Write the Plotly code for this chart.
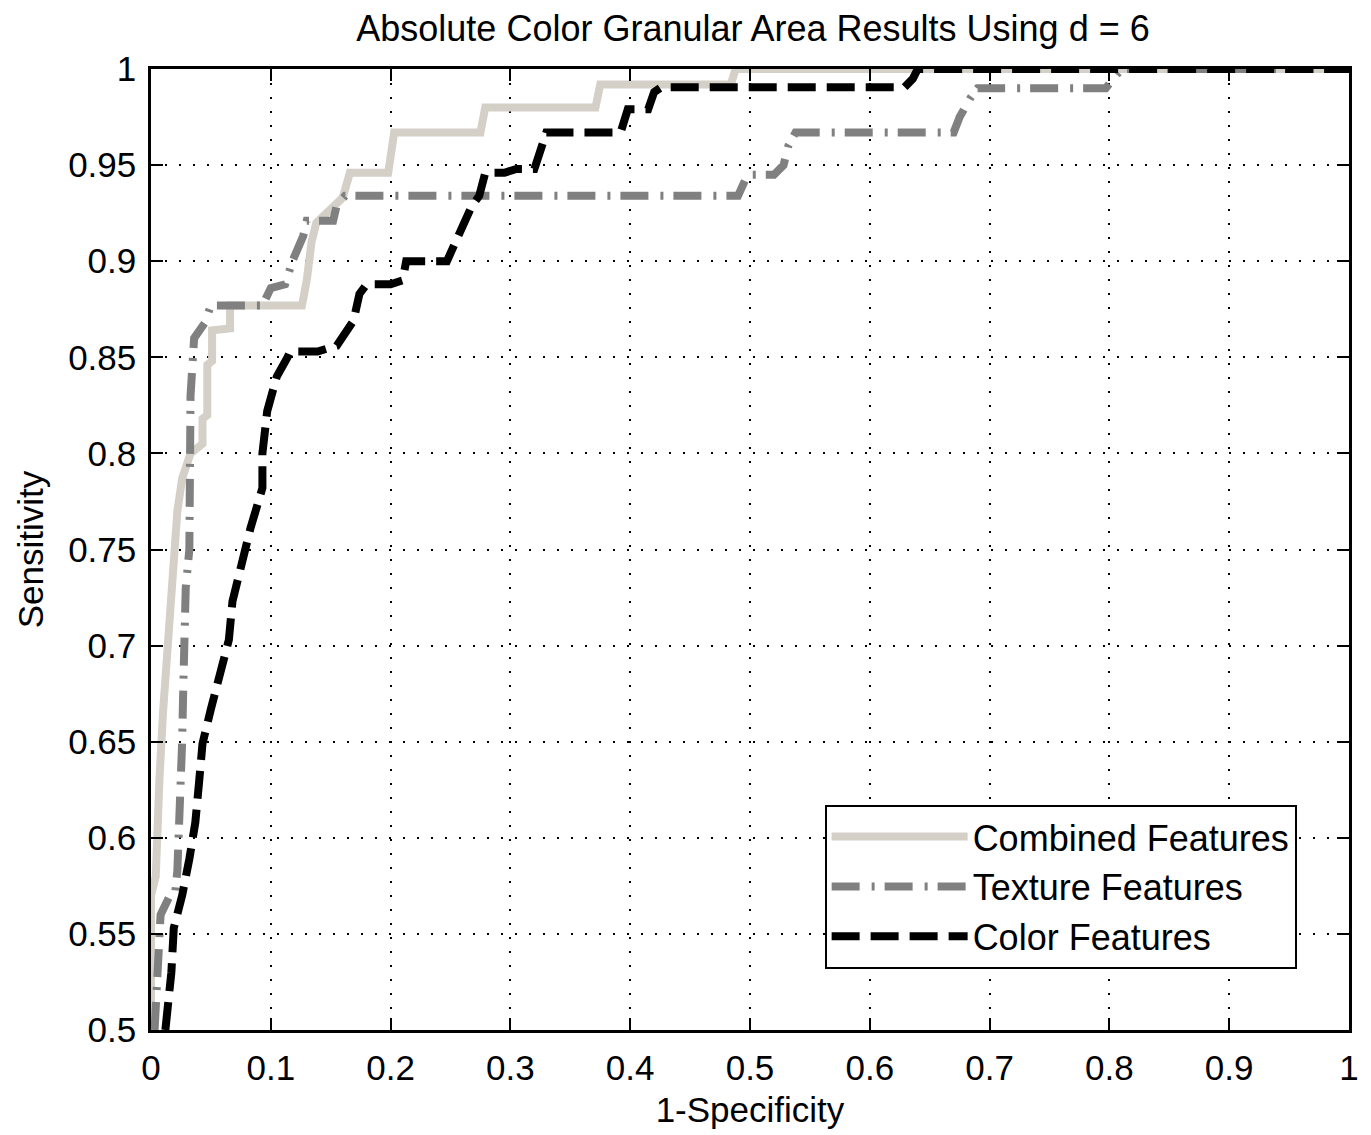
import plotly.graph_objects as go

# ---- data ----
combined_x = [0, 0, 0.004, 0.005, 0.007, 0.010, 0.014, 0.019, 0.022, 0.026, 0.033, 0.043, 0.043, 0.047, 0.047,
              0.051, 0.051, 0.066, 0.066, 0.126, 0.130, 0.134, 0.138, 0.160, 0.163, 0.166, 0.198, 0.203,
              0.275, 0.279, 0.371, 0.375, 0.484, 0.488, 1.0]
combined_y = [0.5, 0.57, 0.58, 0.60, 0.63, 0.665, 0.70, 0.735, 0.77, 0.787, 0.80, 0.805, 0.818, 0.82, 0.846,
              0.848, 0.864, 0.865, 0.877, 0.877, 0.89, 0.91, 0.92, 0.933, 0.94, 0.946, 0.946, 0.967,
              0.967, 0.98, 0.98, 0.992, 0.992, 1.0, 1.0]

texture_x = [0.003, 0.005, 0.008, 0.015, 0.020, 0.022, 0.024, 0.026, 0.027, 0.028, 0.029, 0.032, 0.033, 0.033,
             0.036, 0.045, 0.050, 0.093, 0.100, 0.112, 0.118, 0.127, 0.130, 0.152, 0.155, 0.162, 0.490,
             0.495, 0.498, 0.520, 0.528, 0.532, 0.538, 0.670, 0.675, 0.684, 0.690, 0.797, 0.803, 0.810, 1.0]
texture_y = [0.5, 0.53, 0.56, 0.569, 0.57, 0.583, 0.61, 0.65, 0.68, 0.70, 0.73, 0.75, 0.78, 0.83,
             0.86, 0.868, 0.877, 0.877, 0.886, 0.888, 0.90, 0.913, 0.921, 0.921, 0.929, 0.934, 0.934,
             0.94, 0.945, 0.945, 0.95, 0.96, 0.967, 0.967, 0.975, 0.985, 0.99, 0.99, 0.995, 1.0, 1.0]

color_x = [0.012, 0.014, 0.017, 0.019, 0.026, 0.032, 0.037, 0.040, 0.043, 0.050, 0.058, 0.065, 0.068, 0.075,
           0.083, 0.093, 0.093, 0.097, 0.105, 0.114, 0.116, 0.139, 0.155, 0.169, 0.174, 0.180, 0.200,
           0.210, 0.213, 0.247, 0.255, 0.268, 0.274, 0.279, 0.295, 0.305, 0.320, 0.326, 0.330, 0.392,
           0.398, 0.415, 0.420, 0.426, 0.629, 0.636, 0.640, 1.0]
color_y = [0.5, 0.51, 0.53, 0.553, 0.57, 0.589, 0.608, 0.628, 0.649, 0.667, 0.685, 0.703, 0.723, 0.743,
           0.761, 0.782, 0.80, 0.822, 0.84, 0.85, 0.853, 0.853, 0.856, 0.869, 0.883, 0.888, 0.888,
           0.89, 0.90, 0.90, 0.912, 0.929, 0.934, 0.946, 0.946, 0.948, 0.948, 0.961, 0.967, 0.967,
           0.979, 0.979, 0.988, 0.9905, 0.9905, 0.995, 1.0, 1.0]

series_names = ["Combined Features", "Texture Features", "Color Features"]

x_tickvals = [0, 0.1, 0.2, 0.3, 0.4, 0.5, 0.6, 0.7, 0.8, 0.9, 1.0]
x_ticktext = ["0", "0.1", "0.2", "0.3", "0.4", "0.5", "0.6", "0.7", "0.8", "0.9", "1"]
y_tickvals = [0.5, 0.55, 0.6, 0.65, 0.7, 0.75, 0.8, 0.85, 0.9, 0.95, 1.0]
y_ticktext = ["0.5", "0.55", "0.6", "0.65", "0.7", "0.75", "0.8", "0.85", "0.9", "0.95", "1"]

FONT = "Liberation Sans, Arial, sans-serif"

# page body has an 8px margin in the browser; size the figure so the plot lands where the reference has it
W, H = 1363, 1127
L, T = 143, 61
PW, PH = 1204, 964

fig = go.Figure()
fig.add_trace(go.Scatter(x=combined_x, y=combined_y, mode="lines", name=series_names[0],
                         line=dict(color="#d4d0c8", width=8)))
fig.add_trace(go.Scatter(x=texture_x, y=texture_y, mode="lines", name=series_names[1],
                         line=dict(color="#808080", width=8, dash="28px,12px,3px,10px")))
fig.add_trace(go.Scatter(x=color_x, y=color_y, mode="lines", name=series_names[2],
                         line=dict(color="#000000", width=8, dash="28px,11px")))

axis_common = dict(
    showline=True, linecolor="black", linewidth=2.5, mirror="allticks",
    ticks="inside", ticklen=12, tickwidth=2, tickcolor="black",
    showgrid=True, gridcolor="black", gridwidth=2, griddash="2px,12px",
    zeroline=False, tickfont=dict(family=FONT, size=35, color="black"),
)

fig.update_xaxes(range=[0, 1], tickvals=x_tickvals, ticktext=x_ticktext,
                 title=dict(text="1-Specificity", font=dict(family=FONT, size=35, color="black"), standoff=12),
                 ticklabelstandoff=5, **axis_common)
fig.update_yaxes(range=[0.5, 1], tickvals=y_tickvals, ticktext=y_ticktext,
                 title=dict(text="Sensitivity", font=dict(family=FONT, size=35, color="black"), standoff=14),
                 ticklabelstandoff=5, **axis_common)

fig.update_layout(
    width=W, height=H,
    margin=dict(l=L, r=W - L - PW, t=T, b=H - T - PH),
    paper_bgcolor="white", plot_bgcolor="white",
    title=dict(text="Absolute Color Granular Area Results Using d = 6",
               font=dict(family=FONT, size=36, color="black"),
               x=(L + PW / 2) / W, xanchor="center", xref="container",
               y=1 - 20 / H, yanchor="middle", yref="container"),
    legend=dict(x=(828 - 151) / PW, y=(1033 - 807) / PH, xanchor="left", yanchor="top",
                bgcolor="white", bordercolor="black", borderwidth=2,
                font=dict(family=FONT, size=36, color="black"), itemwidth=136,
                entrywidth=335, entrywidthmode="pixels",
                tracegroupgap=0),
    showlegend=True,
)

fig.write_html("out.html")
